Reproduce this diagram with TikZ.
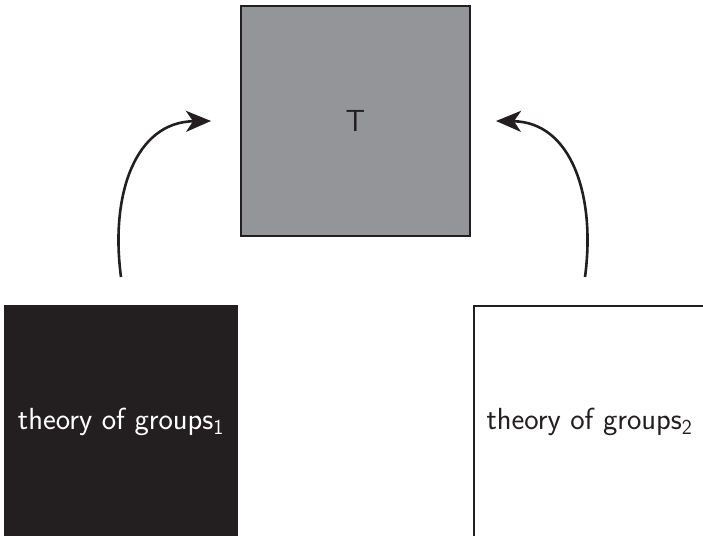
\documentclass[tikz,border=0pt]{standalone}
\usetikzlibrary{arrows.meta}
\definecolor{ink}{HTML}{231F20}
\definecolor{midgray}{HTML}{939598}
\begin{document}
\begin{tikzpicture}[x=1pt,y=-1pt,
  box/.style={draw=ink,line width=2pt,minimum size=229pt,inner sep=0pt,
    font=\sffamily\fontsize{30.5}{36}\selectfont},
  link/.style={draw=ink,line width=2.6pt,-{Stealth[length=25pt,width=21pt,inset=7pt]}}]
\clip (0,0) rectangle (703,535);
\useasboundingbox (0,0) rectangle (703,535);
\node[box,fill=midgray,text=ink] (T) at (355.5,121) {T};
\node[box,minimum size=232pt,fill=ink,text=white] (G1) at (121,421.5) {theory of groups\textsubscript{1}};
\node[box,minimum size=232pt,fill=white,text=ink] (G2) at (589.5,421.5) {theory of groups\textsubscript{2}};
\coordinate (s1) at (121,277);
\coordinate (e1) at (211,121);
\coordinate (s2) at (585,277);
\coordinate (e2) at (496,121);
\draw[link] (s1) .. controls (110,195) and (135,122) .. (e1);
\draw[link] (s2) .. controls (596,195) and (571,122) .. (e2);
\end{tikzpicture}
\end{document}
